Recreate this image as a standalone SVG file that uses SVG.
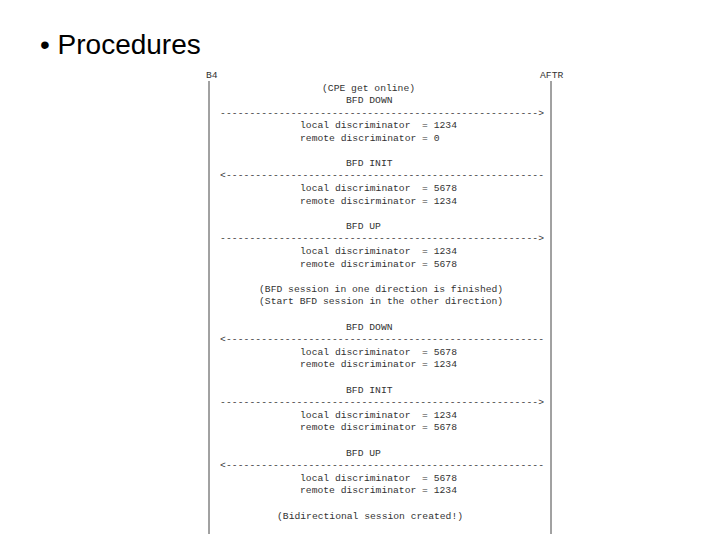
<svg xmlns="http://www.w3.org/2000/svg" width="720" height="540" viewBox="0 0 720 540">
<style>
.t{font-family:"Liberation Mono","DejaVu Sans Mono",monospace;font-size:9.7px;fill:#333;white-space:pre}
.h{font-family:"Liberation Sans",Arial,sans-serif;font-size:28px;fill:#000}
.b{stroke:#444;stroke-width:1}
</style>
<rect width="720" height="540" fill="#fff"/>
<text class="h" x="40" y="54">• Procedures</text>
<g id="lifelines">
<text class="t" x="206" y="78">B4</text>
<text class="t" x="540" y="78">AFTR</text>
<line class="b" x1="209" y1="81" x2="209" y2="534"/>
<line class="b" x1="551" y1="81" x2="551" y2="534"/>
</g>
<g id="connectors">
<text class="t" x="220" y="115.5" textLength="324" lengthAdjust="spacing">------------------------------------------------------&gt;</text>
<text class="t" x="220" y="178" textLength="324" lengthAdjust="spacing">&lt;------------------------------------------------------</text>
<text class="t" x="220" y="241" textLength="324" lengthAdjust="spacing">------------------------------------------------------&gt;</text>
<text class="t" x="220" y="342" textLength="324" lengthAdjust="spacing">&lt;------------------------------------------------------</text>
<text class="t" x="220" y="405" textLength="324" lengthAdjust="spacing">------------------------------------------------------&gt;</text>
<text class="t" x="220" y="468" textLength="324" lengthAdjust="spacing">&lt;------------------------------------------------------</text>
</g>
<g id="labels">
<text class="t" x="322" y="90.5">(CPE get online)</text>
<text class="t" x="346" y="103">BFD DOWN</text>
<text class="t" x="300" y="128" xml:space="preserve">local discriminator  = 1234</text>
<text class="t" x="300" y="140.5">remote discriminator = 0</text>
<text class="t" x="346" y="165.5">BFD INIT</text>
<text class="t" x="300" y="190.5" xml:space="preserve">local discriminator  = 5678</text>
<text class="t" x="300" y="203.5">remote discirminator = 1234</text>
<text class="t" x="346" y="228.5">BFD UP</text>
<text class="t" x="300" y="253.5" xml:space="preserve">local discriminator  = 1234</text>
<text class="t" x="300" y="266.5">remote discriminator = 5678</text>
<text class="t" x="259" y="291.5">(BFD session in one direction is finished)</text>
<text class="t" x="259" y="304">(Start BFD session in the other direction)</text>
<text class="t" x="346" y="329.5">BFD DOWN</text>
<text class="t" x="300" y="354.5" xml:space="preserve">local discriminator  = 5678</text>
<text class="t" x="300" y="367">remote discriminator = 1234</text>
<text class="t" x="346" y="392.5">BFD INIT</text>
<text class="t" x="300" y="417.5" xml:space="preserve">local discriminator  = 1234</text>
<text class="t" x="300" y="430">remote discriminator = 5678</text>
<text class="t" x="346" y="455.5">BFD UP</text>
<text class="t" x="300" y="480.5" xml:space="preserve">local discriminator  = 5678</text>
<text class="t" x="300" y="493">remote discriminator = 1234</text>
<text class="t" x="277" y="518.5">(Bidirectional session created!)</text>
</g>
</svg>
